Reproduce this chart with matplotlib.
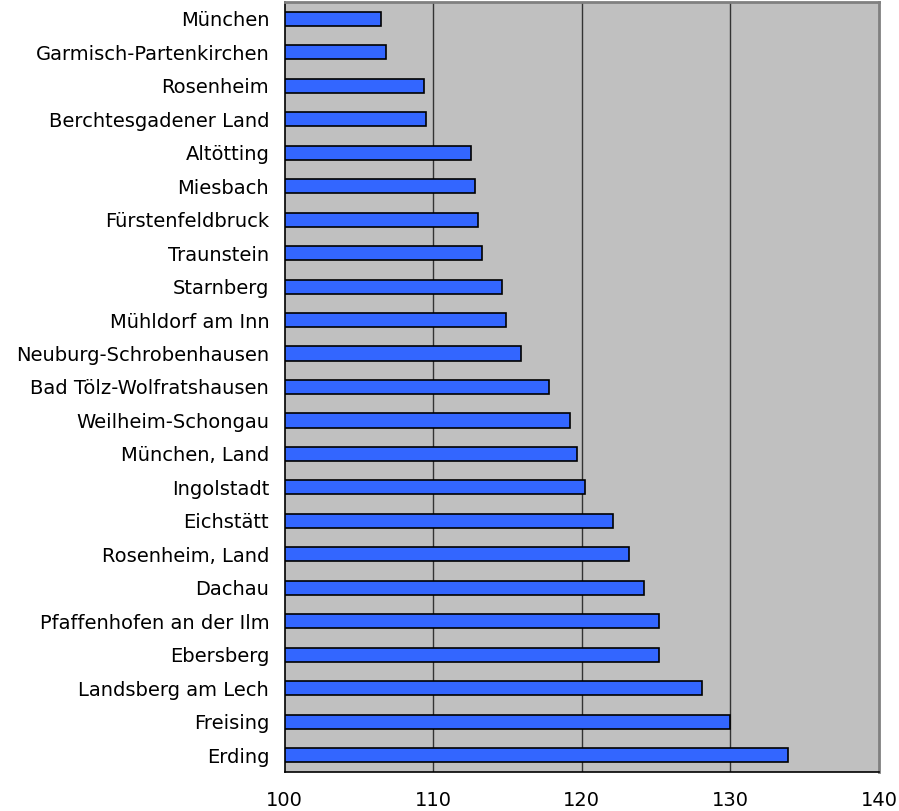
import matplotlib
matplotlib.use("Agg")
import matplotlib.pyplot as plt

districts = [
    "München", "Garmisch-Partenkirchen", "Rosenheim", "Berchtesgadener Land",
    "Altötting", "Miesbach", "Fürstenfeldbruck", "Traunstein", "Starnberg",
    "Mühldorf am Inn", "Neuburg-Schrobenhausen", "Bad Tölz-Wolfratshausen",
    "Weilheim-Schongau", "München, Land", "Ingolstadt", "Eichstätt",
    "Rosenheim, Land", "Dachau", "Pfaffenhofen an der Ilm", "Ebersberg",
    "Landsberg am Lech", "Freising", "Erding",
]
values = [
    106.5, 106.8, 109.4, 109.5,
    112.55, 112.85, 113.05, 113.3, 114.65,
    114.9, 115.9, 117.8,
    119.2, 119.65, 120.25, 122.1,
    123.15, 124.2, 125.2, 125.2,
    128.1, 130.0, 133.9,
]
xticks = [100, 110, 120, 130, 140]

plt.rcParams['font.family'] = ['DejaVu Sans']
fig = plt.figure(figsize=(8.99, 8.11), dpi=100)
ax = fig.add_axes([284.5 / 899, 1 - 772 / 811, (879 - 284.5) / 899, (772 - 2) / 811])
ax.set_facecolor("#C0C0C0")

y = list(range(len(districts)))
ax.barh(y, [v - 100 for v in values], left=100, height=0.42,
        color="#3366FF", edgecolor="black", linewidth=1.2, zorder=3)

ax.set_xlim(100, 140)
ax.set_ylim(len(districts) - 0.5, -0.5)
ax.set_xticks(xticks)
ax.set_xticklabels([str(t) for t in xticks], fontsize=14)
ax.set_yticks(y)
ax.set_yticklabels(districts, fontsize=14)
ax.tick_params(axis="both", length=0)
ax.tick_params(axis="x", pad=14)
ax.tick_params(axis="y", pad=11)

for gx in xticks[1:-1]:
    ax.axvline(gx, color="#333333", linewidth=1.0, zorder=1)

ax.spines["top"].set_color("#808080")
ax.spines["right"].set_color("#808080")
ax.spines["top"].set_linewidth(2)
ax.spines["right"].set_linewidth(2)
ax.spines["left"].set_color("black")
ax.spines["bottom"].set_color("black")
ax.spines["left"].set_linewidth(1.2)
ax.spines["bottom"].set_linewidth(1.2)

fig.savefig("out.png", dpi=100)
